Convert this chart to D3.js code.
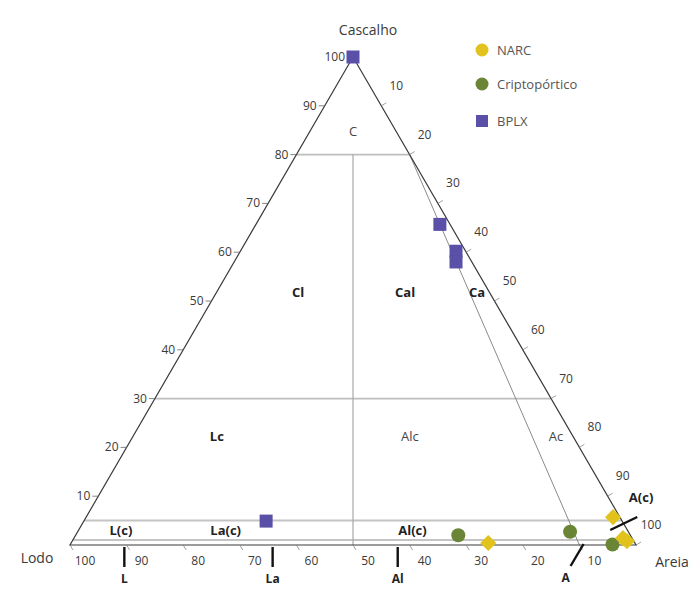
<!DOCTYPE html>
<html>
<head>
<meta charset="utf-8">
<script src="https://cdn.jsdelivr.net/npm/d3@7"></script>
<style>
  html, body { margin: 0; padding: 0; background: #fff; }
  svg { display: block; font-family: "Open Sans", "Noto Sans", sans-serif; }
</style>
</head>
<body>
<svg id="chart" width="695" height="591"></svg>
<script>
// ---- data (ternary: [cascalho %, areia %, lodo %]) ----
const seriesNames = ["NARC", "Criptopórtico", "BPLX"];
const seriesColors = ["#e2c31d", "#6a8535", "#5b50a8"];
const narcPoints = [[5.7, 93.1, 1.2], [1.4, 97.0, 1.6], [0.8, 98.0, 1.2], [0.4, 73.7, 25.9]];
const criptoPoints = [[2.0, 67.6, 30.4], [2.7, 87.0, 10.3], [0.1, 95.8, 4.1]];
const bplxPoints = [[100, 0, 0], [65.7, 32.5, 1.8], [60.2, 38.1, 1.7], [58.0, 39.2, 2.8], [4.9, 32.2, 62.9]];
const axisTicks = [10, 20, 30, 40, 50, 60, 70, 80, 90, 100];
const gravelBoundaries = [80, 30, 5, 1];
const regionLabels = [
  {t: "C", c: 84.8, a: 7.6, bold: false},
  {t: "Cl", c: 51.8, a: 14.4, bold: true},
  {t: "Cal", c: 51.8, a: 33.3, bold: true},
  {t: "Ca", c: 51.8, a: 46.0, bold: true},
  {t: "Lc", c: 22.3, a: 14.8, bold: true},
  {t: "Alc", c: 22.3, a: 48.9, bold: false},
  {t: "Ac", c: 22.3, a: 74.7, bold: false},
  {t: "L(c)", c: 3.0, a: 7.5, bold: true},
  {t: "La(c)", c: 3.0, a: 26.0, bold: true},
  {t: "Al(c)", c: 3.0, a: 59.0, bold: true},
  {t: "A(c)", c: 9.8, a: 96.0, bold: true}
];
const baseClassLabels = ["L", "La", "Al"];
const baseClassAreia = [9.6, 35.8, 57.9];

// ---- scales ----
const svg = d3.select("#chart");
const xScale = d3.scaleLinear().domain([0, 100]).range([70, 636]);
const yScale = d3.scaleLinear().domain([0, 100]).range([545, 57]);
function proj(c, a) { return [xScale(a + c / 2), yScale(c)]; }
const line = d3.line();

// ---- structure lines ----
const g = svg.append("g");
gravelBoundaries.forEach((c, i) => {
  g.append("path")
    .attr("d", line([proj(c, 0), proj(c, 100 - c)]))
    .attr("stroke", i < 2 ? "#bdbdbd" : "#c4c4c4")
    .attr("stroke-width", i < 2 ? 1.6 : 2)
    .attr("fill", "none");
});
// sand:mud 1:1 line
g.append("path").attr("d", line([proj(80, 10), proj(0, 50)]))
  .attr("stroke", "#a8a8a8").attr("stroke-width", 1.2).attr("fill", "none");
// sand:mud 9:1 line
g.append("path").attr("d", line([proj(80, 20), proj(0, 90)]))
  .attr("stroke", "#8a8a8a").attr("stroke-width", 1).attr("fill", "none");

// triangle
g.append("path")
  .attr("d", line([proj(100, 0), proj(0, 0), proj(0, 100), proj(100, 0)]) )
  .attr("stroke", "#3a3a3a").attr("stroke-width", 1.2).attr("fill", "none")
  .attr("stroke-linejoin", "miter");

// ---- axis ticks & labels ----
const tickFont = 12, tickColor = "#3a3a3a";
// left: cascalho
axisTicks.forEach(v => {
  const [x, y] = proj(v, 0);
  g.append("line").attr("x1", x - 6).attr("x2", x).attr("y1", y).attr("y2", y)
    .attr("stroke", "#666").attr("stroke-width", 0.8);
  g.append("text").attr("x", x - 8).attr("y", y + 4).attr("text-anchor", "end")
    .attr("font-size", tickFont).attr("fill", tickColor).text(v);
});
// right: areia
axisTicks.forEach(v => {
  const [x, y] = proj(100 - v, v);
  g.append("line").attr("x1", x).attr("x2", x + 5).attr("y1", y).attr("y2", y - 3)
    .attr("stroke", "#777").attr("stroke-width", 0.7);
  g.append("text").attr("x", x + 15).attr("y", y - 16).attr("text-anchor", "middle")
    .attr("font-size", tickFont).attr("fill", tickColor).text(v);
});
// bottom: lodo
axisTicks.forEach(v => {
  const [x, y] = proj(0, 100 - v);
  g.append("line").attr("x1", x).attr("x2", x + 3).attr("y1", y).attr("y2", y + 5)
    .attr("stroke", "#777").attr("stroke-width", 0.7);
  g.append("text").attr("x", x + 15).attr("y", y + 20).attr("text-anchor", "middle")
    .attr("font-size", tickFont).attr("fill", tickColor).text(v);
});

// vertex titles
g.append("text").attr("x", 368).attr("y", 35).attr("text-anchor", "middle")
  .attr("font-size", 14).attr("fill", "#3a3a3a").text("Cascalho");
g.append("text").attr("x", 37).attr("y", 563).attr("text-anchor", "middle")
  .attr("font-size", 14).attr("fill", "#3a3a3a").text("Lodo");
g.append("text").attr("x", 672).attr("y", 567).attr("text-anchor", "middle")
  .attr("font-size", 14).attr("fill", "#3a3a3a").text("Areia");

// region labels
regionLabels.forEach(d => {
  const [x, y] = proj(d.c, d.a);
  g.append("text").attr("x", x).attr("y", y + 5).attr("text-anchor", "middle")
    .attr("font-size", 13).attr("font-weight", d.bold ? "bold" : "normal")
    .attr("fill", d.bold ? "#222" : "#444").text(d.t);
});

// base class ticks
baseClassLabels.forEach((t, i) => {
  const [x, y] = proj(0, baseClassAreia[i]);
  g.append("line").attr("x1", x).attr("x2", x).attr("y1", y + 2).attr("y2", y + 22)
    .attr("stroke", "#111").attr("stroke-width", 2.4);
  g.append("text").attr("x", x).attr("y", y + 38).attr("text-anchor", "middle")
    .attr("font-size", 12).attr("font-weight", "bold").attr("fill", "#222").text(t);
});
// slanted A tick
{
  const [x, y] = proj(0, 89.5);
  g.append("line").attr("x1", x + 7).attr("x2", x - 6).attr("y1", y - 1).attr("y2", y + 21)
    .attr("stroke", "#111").attr("stroke-width", 2.4);
  g.append("text").attr("x", x - 11).attr("y", y + 37).attr("text-anchor", "middle")
    .attr("font-size", 12).attr("font-weight", "bold").attr("fill", "#222").text("A");
}

// ---- markers ----
const mk = svg.append("g");
mk.selectAll(".cripto").data(criptoPoints).enter().append("circle")
  .attr("cx", d => proj(d[0], d[1])[0]).attr("cy", d => proj(d[0], d[1])[1])
  .attr("r", 7).attr("fill", seriesColors[1]);
mk.selectAll(".narc").data(narcPoints).enter().append("path")
  .attr("transform", d => { const [x, y] = proj(d[0], d[1]); return `translate(${x},${y}) rotate(45)`; })
  .attr("d", d3.symbol().type(d3.symbolSquare).size(130)())
  .attr("fill", seriesColors[0]);
mk.selectAll(".bplx").data(bplxPoints).enter().append("rect")
  .attr("x", d => proj(d[0], d[1])[0] - 6.5).attr("y", d => proj(d[0], d[1])[1] - 6.5)
  .attr("width", 13).attr("height", 13).attr("fill", seriesColors[2]);

// slanted A(c) tick (drawn over markers)
{
  const [x, y] = proj(4.5, 95.5);
  svg.append("line").attr("x1", x - 13).attr("x2", x + 14).attr("y1", y + 7).attr("y2", y - 6)
    .attr("stroke", "#111").attr("stroke-width", 2.4);
}

// ---- legend ----
const lg = svg.append("g");
const legendY = [50, 84, 121];
seriesNames.forEach((name, i) => {
  if (i < 2) {
    lg.append("circle").attr("cx", 482).attr("cy", legendY[i]).attr("r", 6.5).attr("fill", seriesColors[i]);
  } else {
    lg.append("rect").attr("x", 476).attr("y", legendY[i] - 6).attr("width", 12).attr("height", 12).attr("fill", seriesColors[i]);
  }
  lg.append("text").attr("x", 497).attr("y", legendY[i] + 5).attr("font-size", 13)
    .attr("fill", "#555").text(name);
});
</script>
</body>
</html>
